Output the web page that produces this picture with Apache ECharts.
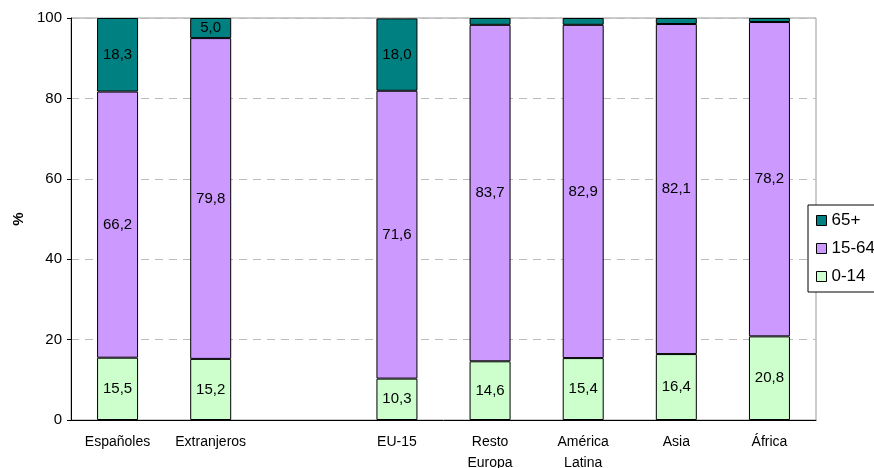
<!DOCTYPE html>
<html>
<head>
<meta charset="utf-8">
<script src="https://cdn.jsdelivr.net/npm/echarts@6/dist/echarts.min.js"></script>
<style>
html,body{margin:0;padding:0;background:#fff;overflow:hidden;}
#c{width:874px;height:468px;}
</style>
</head>
<body>
<div id="c"></div>
<script>
var categories = ['Españoles', 'Extranjeros', '', 'EU-15', 'Resto\nEuropa', 'América\nLatina', 'Asia', 'África'];
var age0_14 = [15.5, 15.2, null, 10.3, 14.6, 15.4, 16.4, 20.8];
var age15_64 = [66.2, 79.8, null, 71.6, 83.7, 82.9, 82.1, 78.2];
var age65 = [18.3, 5.0, null, 18.0, 1.7, 1.7, 1.5, 1.0];
var yTicks = [0, 20, 40, 60, 80, 100];

var FF = 'Liberation Sans, Arial, sans-serif';
var chart = echarts.init(document.getElementById('c'));
function fmt(p) {
  if (p.value == null || p.value < 4) return '';
  return p.value.toFixed(1).replace('.', ',');
}
var lbl = {show: true, position: 'inside', color: '#000', fontFamily: FF, fontSize: 15, formatter: fmt};
function mk(name, data, color) {
  return {
    name: name, type: 'bar', stack: 'a', data: data, barWidth: 41,
    itemStyle: {color: color, borderColor: '#000', borderWidth: 1},
    label: lbl, emphasis: {disabled: true}
  };
}
chart.setOption({
  animation: false,
  grid: {left: 71, right: 58, top: 18, bottom: 48, outerBoundsMode: 'none', containLabel: false,
    show: true, borderColor: '#999', borderWidth: 1, backgroundColor: 'transparent'},
  legend: {
    orient: 'vertical', left: 808, top: 205,
    data: ['65+', '15-64', '0-14'],
    backgroundColor: '#fff', borderColor: '#000', borderWidth: 1,
    padding: [7, 20, 7, 8], itemGap: 11, itemWidth: 10, itemHeight: 10, icon: 'rect',
    itemStyle: {borderColor: '#000', borderWidth: 1},
    textStyle: {fontFamily: FF, fontSize: 17, color: '#000'}
  },
  xAxis: {
    type: 'category', data: categories,
    axisLine: {lineStyle: {color: '#000'}},
    axisTick: {show: false},
    axisLabel: {color: '#000', fontFamily: FF, fontSize: 14, lineHeight: 21, margin: 12, interval: 0}
  },
  yAxis: {
    type: 'value', min: 0, max: 100, interval: 20,
    name: '%', nameLocation: 'middle', nameGap: 45, nameRotate: 90,
    nameTextStyle: {fontWeight: 'bold', fontSize: 15, fontFamily: FF, color: '#000'},
    axisLine: {show: true, lineStyle: {color: '#000'}},
    axisTick: {show: true, length: 4, lineStyle: {color: '#000'}},
    axisLabel: {color: '#000', fontFamily: FF, fontSize: 15, margin: 9,
      formatter: function (v) { return yTicks.indexOf(v) >= 0 ? String(v) : ''; }},
    splitLine: {lineStyle: {color: '#bbb', type: [8, 6]}}
  },
  series: [
    mk('0-14', age0_14, '#CCFFCC'),
    mk('15-64', age15_64, '#CC99FF'),
    mk('65+', age65, '#008080')
  ]
});
</script>
</body>
</html>
